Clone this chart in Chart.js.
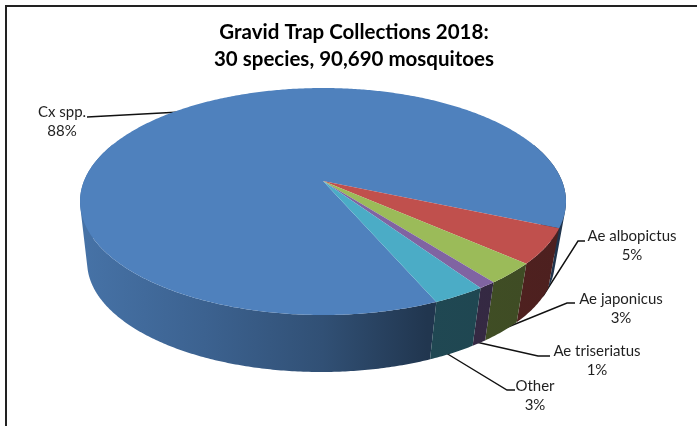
<!DOCTYPE html>
<html>
<head>
<meta charset="utf-8">
<style>
  html, body { margin: 0; padding: 0; background: #fff; }
  #frame { position: absolute; left: 5px; top: 5px; width: 692px; height: 421px;
           border-left: 2px solid #222; border-top: 2px solid #222; box-sizing: border-box; }
  canvas { position: absolute; left: 0; top: 0; }
</style>
<script src="https://cdn.jsdelivr.net/npm/chart.js@4"></script>
</head>
<body>
<canvas id="chart" width="697" height="426"></canvas>
<div id="frame"></div>
<script>
const categories = ['Cx spp.', 'Ae albopictus', 'Ae japonicus', 'Ae triseriatus', 'Other'];
const shares = [88, 5, 3, 1, 3];
const sliceColors = ['#4f81bd', '#c0504d', '#9bbb59', '#8064a2', '#4bacc6'];
const titleLines = ['Gravid Trap Collections 2018:', '30 species, 90,690 mosquitoes'];

// Label anchors and leader polylines, one entry per category.
const labelAnchors = [
  { x: 62, y: 112 }, { x: 632, y: 236 }, { x: 621, y: 299 }, { x: 597, y: 351 }, { x: 535, y: 386 }
];
const leaderPaths = [
  [[87, 117], [180, 112]],
  [[585, 241], [578, 241], [543, 296]],
  [[575, 303], [567, 303], [503, 329]],
  [[550, 356], [538, 356], [476, 342]],
  [[515, 390], [507, 390], [446, 353]]
];

// Homographies that place the unit disc on the tilted top and bottom faces.
const topFace = { cx: 323, cy: 181, fx: 239, fy: 109.8, k: -0.1806 };
const bottomFace = { cx: 321, cy: 242.4, fx: 230, fy: 106.2, k: -0.1806 };

function project(face, angle) {
  const X = Math.cos(angle), Y = Math.sin(angle);
  const w = 1 + face.k * Y;
  return [face.cx + face.fx * X / w, face.cy + face.fy * Y / w];
}

function traceEdge(ctx, face, from, to) {
  const steps = Math.max(2, Math.ceil(Math.abs(to - from) / 0.01));
  for (let i = 0; i <= steps; i++) {
    const p = project(face, from + (to - from) * i / steps);
    ctx.lineTo(p[0], p[1]);
  }
}

function rgbOf(hex) {
  return [1, 3, 5].map(i => parseInt(hex.slice(i, i + 2), 16));
}

// Side-wall shading falls off from the lit left edge to the dark front right.
const wallStops = [[0, 0.88], [0.25, 0.76], [0.5, 0.62], [0.72, 0.42], [1, 0.4]];

function wallGradient(ctx, hex) {
  const g = ctx.createLinearGradient(85, 0, 560, 0);
  const [r, gr, b] = rgbOf(hex);
  wallStops.forEach(([t, s]) => {
    g.addColorStop(t, `rgb(${Math.round(r * s)},${Math.round(gr * s)},${Math.round(b * s)})`);
  });
  return g;
}

// Sweeps the rim between both faces as one path of thin quads, all wound the
// same way, so the silhouette is filled without seams. The far rim stays out.
function drawWall(ctx, arc, hex) {
  const span = arc.endAngle - arc.startAngle;
  const steps = Math.ceil(span / 0.01);
  ctx.beginPath();
  for (let i = 0; i < steps; i++) {
    const a0 = arc.startAngle + span * i / steps;
    const a1 = arc.startAngle + span * (i + 1) / steps;
    if (Math.sin((a0 + a1) / 2) < -0.35) continue;
    const q = [project(topFace, a0), project(topFace, a1), project(bottomFace, a1), project(bottomFace, a0)];
    let area = 0;
    q.forEach((p, j) => {
      const n = q[(j + 1) % 4];
      area += p[0] * n[1] - n[0] * p[1];
    });
    if (area < 0) q.reverse();
    ctx.moveTo(q[0][0], q[0][1]);
    for (let j = 1; j < 4; j++) ctx.lineTo(q[j][0], q[j][1]);
    ctx.closePath();
  }
  ctx.fillStyle = wallGradient(ctx, hex);
  ctx.fill();
}

const tiltedPie = {
  id: 'tiltedPie',
  beforeDatasetsDraw(chart) {
    const ctx = chart.ctx;
    const arcs = chart.getDatasetMeta(0).data;

    // Leader lines sit behind the pie body.
    ctx.save();
    ctx.strokeStyle = '#111';
    ctx.lineWidth = 1.4;
    leaderPaths.forEach(path => {
      ctx.beginPath();
      path.forEach((p, i) => i ? ctx.lineTo(p[0], p[1]) : ctx.moveTo(p[0], p[1]));
      ctx.stroke();
    });

    // Outer walls.
    arcs.forEach((arc, i) => drawWall(ctx, arc, sliceColors[i]));

    // Top faces.
    arcs.forEach((arc, i) => {
      ctx.beginPath();
      ctx.moveTo(topFace.cx, topFace.cy);
      traceEdge(ctx, topFace, arc.startAngle, arc.endAngle);
      ctx.closePath();
      ctx.fillStyle = sliceColors[i];
      ctx.fill();
    });

    // Category and percentage labels.
    ctx.fillStyle = '#1f1f1f';
    ctx.font = '15px Lato';
    ctx.textAlign = 'center';
    ctx.textBaseline = 'middle';
    arcs.forEach((arc, i) => {
      const a = labelAnchors[i];
      ctx.fillText(categories[i], a.x, a.y);
      ctx.fillText(shares[i] + '%', a.x, a.y + 19);
    });
    ctx.restore();
    return false;
  }
};

new Chart(document.getElementById('chart'), {
  type: 'pie',
  data: {
    labels: categories,
    datasets: [{ data: shares, backgroundColor: sliceColors, borderWidth: 0 }]
  },
  options: {
    responsive: false,
    animation: false,
    rotation: 156.7,
    layout: { padding: { top: 18, left: 11 } },
    plugins: {
      legend: { display: false },
      tooltip: { enabled: false },
      title: {
        display: true,
        text: titleLines,
        color: '#000',
        font: { family: 'Lato', size: 20.5, weight: 'bold', lineHeight: 1.36 },
        padding: 0
      }
    }
  },
  plugins: [tiltedPie]
});
</script>
</body>
</html>
